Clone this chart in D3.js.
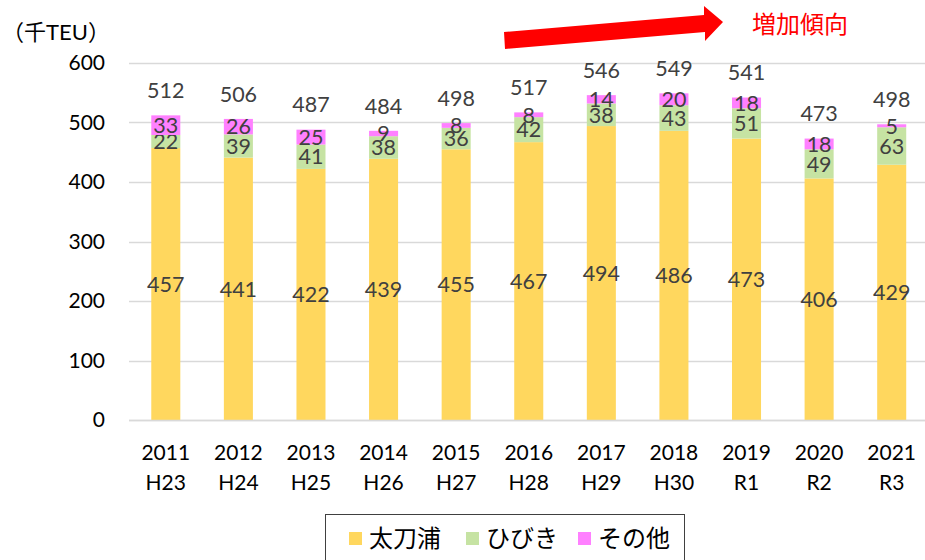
<!DOCTYPE html>
<html>
<head>
<meta charset="utf-8">
<script src="https://cdn.jsdelivr.net/npm/d3@7"></script>
<style>
  body { margin: 0; background: #fff; }
  svg text { font-family: Lato, "Noto Sans CJK JP", sans-serif; }
</style>
</head>
<body>
<svg id="chart" width="925" height="560"></svg>
<script>
(function(){

  // data
  var years = ['2011', '2012', '2013', '2014', '2015', '2016', '2017', '2018', '2019', '2020', '2021'];
  var eras = ['H23', 'H24', 'H25', 'H26', 'H27', 'H28', 'H29', 'H30', 'R1', 'R2', 'R3'];
  var tachiura = [457, 441, 422, 439, 455, 467, 494, 486, 473, 406, 429];
  var hibiki = [22, 39, 41, 38, 36, 42, 38, 43, 51, 49, 63];
  var others = [33, 26, 25, 9, 8, 8, 14, 20, 18, 18, 5];
  var totals = [512, 506, 487, 484, 498, 517, 546, 549, 541, 473, 498];
  var seriesNames = ['太刀浦', 'ひびき', 'その他'];
  var yTicks = [0, 100, 200, 300, 400, 500, 600];

  var colors = ['#FFD75E', '#C6E3A3', '#FF80FF'];

  var svg = d3.select('#chart');

  var x = d3.scaleBand()
    .domain(years)
    .range([129.5, 928])
    .paddingInner(0.6)
    .paddingOuter(0.3);

  var y = d3.scaleLinear()
    .domain([0, 600])
    .range([420, 63]);

  // gridlines
  svg.append('g')
    .selectAll('line')
    .data(yTicks)
    .enter()
    .append('line')
    .attr('x1', 129)
    .attr('x2', 925)
    .attr('y1', function(d) { return Math.round(y(d)) + 0.5; })
    .attr('y2', function(d) { return Math.round(y(d)) + 0.5; })
    .attr('stroke', '#d9d9d9')
    .attr('stroke-width', 1.5);

  // y tick labels
  svg.append('g')
    .selectAll('text')
    .data(yTicks)
    .enter()
    .append('text')
    .attr('x', 105)
    .attr('y', function(d) { return y(d); })
    .attr('dy', '0.35em')
    .attr('text-anchor', 'end')
    .attr('font-size', 21)
    .attr('fill', '#000')
    .text(function(d) { return d; });

  svg.append('text')
    .attr('x', 2)
    .attr('y', 40)
    .attr('font-size', 22)
    .attr('fill', '#000')
    .text('（千TEU）');

  // stacked data
  var rows = years.map(function(yr, i) {
    return { year: yr, s0: tachiura[i], s1: hibiki[i], s2: others[i] };
  });
  var stack = d3.stack().keys(['s0', 's1', 's2'])(rows);

  var layers = svg.append('g')
    .selectAll('g')
    .data(stack)
    .enter()
    .append('g')
    .attr('fill', function(d, i) { return colors[i]; });

  layers.selectAll('rect')
    .data(function(d) { return d; })
    .enter()
    .append('rect')
    .attr('x', function(d) { return x(d.data.year); })
    .attr('width', x.bandwidth())
    .attr('y', function(d) { return y(d[1]); })
    .attr('height', function(d) { return y(d[0]) - y(d[1]); });

  // segment labels
  layers.selectAll('text')
    .data(function(d) { return d; })
    .enter()
    .append('text')
    .attr('x', function(d) { return x(d.data.year) + x.bandwidth() / 2; })
    .attr('y', function(d) { return y((d[0] + d[1]) / 2); })
    .attr('dy', '0.36em')
    .attr('text-anchor', 'middle')
    .attr('font-size', 21.5)
    .attr('fill', '#404040')
    .text(function(d) { return d[1] - d[0]; });

  // totals above bars
  svg.append('g')
    .selectAll('text')
    .data(years)
    .enter()
    .append('text')
    .attr('x', function(d) { return x(d) + x.bandwidth() / 2; })
    .attr('y', function(d, i) {
      return y(tachiura[i] + hibiki[i] + others[i]) - 25;
    })
    .attr('dy', '0.36em')
    .attr('text-anchor', 'middle')
    .attr('font-size', 21.5)
    .attr('fill', '#404040')
    .text(function(d, i) { return totals[i]; });

  // x axis line
  svg.append('line')
    .attr('x1', 129)
    .attr('x2', 925)
    .attr('y1', Math.round(y(0)) + 0.5)
    .attr('y2', Math.round(y(0)) + 0.5)
    .attr('stroke', '#d9d9d9')
    .attr('stroke-width', 1.5);

  // x labels, two lines
  var xl = svg.append('g')
    .selectAll('text')
    .data(years)
    .enter()
    .append('text')
    .attr('text-anchor', 'middle')
    .attr('font-size', 21)
    .attr('fill', '#000');
  xl.append('tspan')
    .attr('x', function(d) { return x(d) + x.bandwidth() / 2; })
    .attr('y', 460)
    .text(function(d) { return d; });
  xl.append('tspan')
    .attr('x', function(d) { return x(d) + x.bandwidth() / 2; })
    .attr('y', 490)
    .text(function(d, i) { return eras[i]; });

  // red arrow
  svg.append('path')
    .attr('d', 'M504,32 L704,15 L704,6 L723,22 L705,41 L705,32 L505,49 Z')
    .attr('fill', '#ff0000');

  svg.append('text')
    .attr('x', 752)
    .attr('y', 33)
    .attr('font-size', 24)
    .attr('fill', '#ff0000')
    .text('増加傾向');

  // legend
  var legend = svg.append('g');
  legend.append('rect')
    .attr('x', 325.5)
    .attr('y', 514.5)
    .attr('width', 359)
    .attr('height', 60)
    .attr('fill', '#fff')
    .attr('stroke', '#404040')
    .attr('stroke-width', 1);

  var legendX = [349, 466, 578];
  var items = legend.selectAll('g.item')
    .data(seriesNames)
    .enter()
    .append('g')
    .attr('class', 'item')
    .attr('transform', function(d, i) {
      return 'translate(' + legendX[i] + ',0)';
    });
  items.append('rect')
    .attr('x', 0)
    .attr('y', 532)
    .attr('width', 13)
    .attr('height', 13)
    .attr('fill', function(d, i) { return colors[i]; });
  items.append('text')
    .attr('x', 20)
    .attr('y', 547)
    .attr('font-size', 24)
    .attr('fill', '#000')
    .text(function(d) { return d; });

})();
</script>
</body>
</html>
